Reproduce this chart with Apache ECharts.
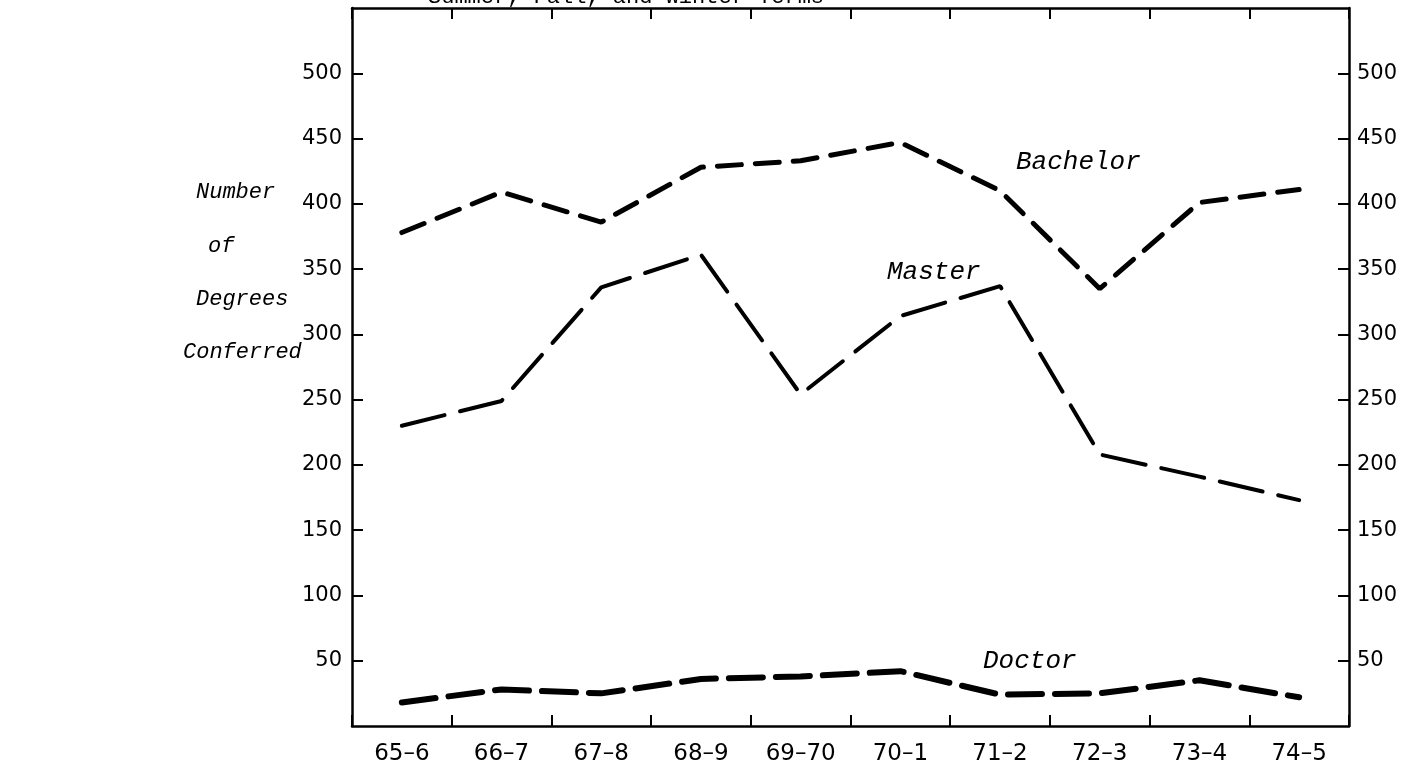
<!DOCTYPE html>
<html>
<head>
<meta charset="utf-8">
<title>Degrees Conferred</title>
<script src="https://cdn.jsdelivr.net/npm/echarts@6/dist/echarts.min.js"></script>
<style>
  html, body { margin: 0; padding: 0; background: #fff; }
  #lineChart { width: 1421px; height: 770px; }
</style>
</head>
<body>
<div id="lineChart"></div>
<script>
// 学年 / academic years
var yearArr = ['65–6', '66–7', '67–8', '68–9', '69–70', '70–1', '71–2', '72–3', '73–4', '74–5'];
var bachelorArr = [378, 409, 386, 428, 433, 447, 410, 335, 401, 411];
var masterArr = [230, 249, 336, 361, 254, 314, 337, 208, 191, 173];
var doctorArr = [18, 28, 25, 36, 38, 42, 24, 25, 35, 22];
var yTicks = [50, 100, 150, 200, 250, 300, 350, 400, 450, 500];

var monoFont = '"Liberation Mono", "DejaVu Sans Mono", monospace';
var tickFont = '"DejaVu Sans", sans-serif';

var myLine = echarts.init(document.getElementById('lineChart'));

function yLabel(value) {
	return yTicks.indexOf(value) >= 0 ? String(value) : '';
}

var axisLineStyle = { color: '#000', width: 2.5, type: 'solid' };
var tickStyle = { show: true, inside: true, length: 11, lineStyle: { color: '#000', width: 2 } };

var opt = {
	animation: false,
	backgroundColor: '#fff',
	grid: {
		left: 352,
		right: 72,
		top: 8,
		bottom: 44
	},
	xAxis: [
		{
			type: 'category',
			position: 'bottom',
			boundaryGap: true,
			data: yearArr,
			axisLine: { onZero: false, lineStyle: axisLineStyle },
			axisTick: tickStyle,
			axisLabel: {
				color: '#000',
				fontFamily: tickFont,
				fontSize: 23,
				margin: 17
			},
			splitLine: { show: false }
		},
		{
			type: 'category',
			position: 'top',
			boundaryGap: true,
			data: yearArr,
			axisLine: { onZero: false, lineStyle: axisLineStyle },
			axisTick: tickStyle,
			axisLabel: { show: false },
			splitLine: { show: false }
		}
	],
	yAxis: [
		{
			type: 'value',
			position: 'left',
			min: 0,
			max: 550,
			interval: 50,
			axisLine: { show: true, onZero: false, lineStyle: axisLineStyle },
			axisTick: tickStyle,
			axisLabel: {
				color: '#000',
				fontFamily: tickFont,
				fontSize: 21,
				margin: 10,
				showMinLabel: false,
				showMaxLabel: false,
				formatter: yLabel
			},
			splitLine: { show: false }
		},
		{
			type: 'value',
			position: 'right',
			min: 0,
			max: 550,
			interval: 50,
			axisLine: { show: true, onZero: false, lineStyle: axisLineStyle },
			axisTick: tickStyle,
			axisLabel: {
				color: '#000',
				fontFamily: tickFont,
				fontSize: 21,
				margin: 8,
				showMinLabel: false,
				showMaxLabel: false,
				formatter: yLabel
			},
			splitLine: { show: false }
		}
	],
	series: [
		{
			name: 'Bachelor',
			type: 'line',
			data: bachelorArr,
			symbol: 'none',
			lineStyle: { color: '#000', width: 5, type: [24, 14], cap: 'round' }
		},
		{
			name: 'Master',
			type: 'line',
			data: masterArr,
			symbol: 'none',
			lineStyle: { color: '#000', width: 4, type: [44, 16], cap: 'round' }
		},
		{
			name: 'Doctor',
			type: 'line',
			data: doctorArr,
			symbol: 'none',
			lineStyle: { color: '#000', width: 6, type: [34, 13], cap: 'round' }
		}
	],
	graphic: [
		// 标题（被裁掉一半）
		{
			type: 'text',
			left: 428,
			top: -14,
			style: { text: 'Summer, Fall, and Winter Terms', fill: '#000', font: '22px ' + monoFont }
		},
		{
			type: 'text',
			left: 196,
			top: 181,
			style: { text: 'Number', fill: '#000', font: 'italic 22px ' + monoFont }
		},
		{
			type: 'text',
			left: 208,
			top: 235,
			style: { text: 'of', fill: '#000', font: 'italic 22px ' + monoFont }
		},
		{
			type: 'text',
			left: 196,
			top: 288,
			style: { text: 'Degrees', fill: '#000', font: 'italic 22px ' + monoFont }
		},
		{
			type: 'text',
			left: 183,
			top: 341,
			style: { text: 'Conferred', fill: '#000', font: 'italic 22px ' + monoFont }
		},
		{
			type: 'text',
			left: 1016,
			top: 149,
			style: { text: 'Bachelor', fill: '#000', font: 'italic 26px ' + monoFont }
		},
		{
			type: 'text',
			left: 887,
			top: 259,
			style: { text: 'Master', fill: '#000', font: 'italic 26px ' + monoFont }
		},
		{
			type: 'text',
			left: 983,
			top: 648,
			style: { text: 'Doctor', fill: '#000', font: 'italic 26px ' + monoFont }
		}
	]
};
myLine.setOption(opt);
</script>
</body>
</html>
